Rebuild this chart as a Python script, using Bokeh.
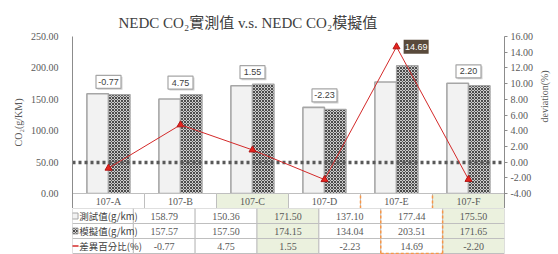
import math
from bokeh.plotting import figure
from bokeh.models import (Range1d, LinearAxis, FixedTicker, NumeralTickFormatter,
                          ColumnDataSource)
from bokeh.transform import dodge
from bokeh.layouts import column
from bokeh.core.properties import value
from bokeh.embed import file_html
from bokeh.resources import INLINE

# ---------------- data ----------------
categories = ["107-A", "107-B", "107-C", "107-D", "107-E", "107-F"]
measured = [158.79, 150.36, 171.50, 137.10, 177.44, 175.50]
simulated = [157.57, 157.50, 174.15, 134.04, 203.51, 171.65]
deviation = [-0.77, 4.75, 1.55, -2.23, 14.69, -2.20]
point_labels = ["-0.77", "4.75", "1.55", "-2.23", "14.69", "2.20"]
measured_text = ["158.79", "150.36", "171.50", "137.10", "177.44", "175.50"]
simulated_text = ["157.57", "157.50", "174.15", "134.04", "203.51", "171.65"]
deviation_text = ["-0.77", "4.75", "1.55", "-2.23", "14.69", "-2.20"]
row_labels = ["測試值(g/km)", "模擬值(g/km)", "差異百分比(%)"]
left_ticks = [0, 50, 100, 150, 200, 250]
right_ticks = [-4, -2, 0, 2, 4, 6, 8, 10, 12, 14, 16]
green_columns = ["107-C", "107-F"]
highlight = "107-E"
title_text = "NEDC CO\u2082實測值 v.s. NEDC CO\u2082模擬值"
left_label = "CO\u2082(g/KM)"
right_label = "deviation(%)"

# ---------------- layout constants ----------------
W = 542 + 16
FRAME_L = 72
FRAME_R_MARGIN = 46
TOP = 36
PLOT_PX = 157
ROW = 15
N = len(categories)
COL_PX = (W - FRAME_L - FRAME_R_MARGIN) / N
LEFT_MAX, RIGHT_MIN, RIGHT_MAX = 250, -4, 16
L_PER_PX = LEFT_MAX / PLOT_PX
R_PER_PX = (RIGHT_MAX - RIGHT_MIN) / PLOT_PX
y_lo = -ROW * L_PER_PX

SERIF = "Liberation Serif"
CJK = "Noto Sans CJK TC"
GRID = "#bfbfbf"
TXT = "#595959"
GREEN = "#ebf1de"
ORANGE = "#f79646"
RED = "#d42a2a"

xs = [i + 0.5 for i in range(N)]
top_vals = [max(m, s) for m, s in zip(measured, simulated)]
fills = [GREEN if c in green_columns else "white" for c in categories]
hi = categories.index(highlight)

src = ColumnDataSource(dict(x=xs, measured=measured, simulated=simulated,
                            dev=deviation, cat=categories, fill=fills))

PAT = dict(fill_color="#cdcdcd", hatch_pattern="x", hatch_color="#3c3c3c",
           hatch_scale=3, hatch_weight=0.9)

# ---------------- chart figure ----------------
p = figure(width=W, height=TOP + PLOT_PX + ROW, x_range=Range1d(0, N),
           y_range=Range1d(y_lo, LEFT_MAX), x_axis_location=None,
           output_backend="svg", toolbar_location=None,
           min_border_left=FRAME_L, min_border_right=FRAME_R_MARGIN,
           min_border_top=TOP, min_border_bottom=0)
p.outline_line_color = None
p.grid.visible = False
p.background_fill_color = "white"

p.title.text = title_text
p.title.align = "left"
p.title.offset = 46
p.title.text_font = SERIF + ", " + CJK
p.title.text_font_size = "15px"
p.title.text_font_style = "normal"
p.title.text_color = "#404040"
p.title.standoff = 11

ya = p.yaxis[0]
ya.ticker = FixedTicker(ticks=left_ticks)
ya.formatter = NumeralTickFormatter(format="0.00")
ya.axis_label = left_label
ya.axis_label_text_font = SERIF
ya.axis_label_text_font_size = "10px"
ya.axis_label_text_font_style = "normal"
ya.axis_label_text_color = TXT
ya.axis_label_standoff = 4
ya.major_label_text_font = SERIF
ya.major_label_text_font_size = "10px"
ya.major_label_text_color = TXT
ya.major_label_standoff = 8
ya.major_tick_line_color = None
ya.minor_tick_line_color = None
ya.axis_line_color = "#8c8c8c"

p.extra_y_ranges = {"dev": Range1d(RIGHT_MIN - ROW * R_PER_PX, RIGHT_MAX)}
ra = LinearAxis(y_range_name="dev", ticker=FixedTicker(ticks=right_ticks),
                formatter=NumeralTickFormatter(format="0.00"),
                axis_label=right_label)
ra.axis_label_text_font = SERIF
ra.axis_label_text_font_size = "10px"
ra.axis_label_text_font_style = "normal"
ra.axis_label_text_color = TXT
ra.axis_label_standoff = 8
ra.major_label_text_font = SERIF
ra.major_label_text_font_size = "10px"
ra.major_label_text_color = TXT
ra.major_label_standoff = 3
ra.major_tick_out = 3
ra.major_tick_in = 0
ra.major_tick_line_color = "#8c8c8c"
ra.minor_tick_line_color = None
ra.axis_line_color = "#8c8c8c"
if "axis_label_orientation" in ra.properties():
    ra.axis_label_orientation = math.pi / 2
p.add_layout(ra, "right")

# bars
p.vbar(x=dodge("x", -0.15), top="measured", width=0.3, source=src,
       fill_color="#f2f2f2", line_color="#a6a6a6", line_width=1.6)
p.vbar(x=dodge("x", 0.15), top="simulated", width=0.3, source=src,
       line_color="#a6a6a6", line_width=1.2, **PAT)

# header row of the table (category names) under the x axis
p.rect(x="x", y=y_lo / 2, width=1, height=-y_lo, source=src,
       fill_color="fill", line_color=GRID, line_width=1)
p.text(x="x", y=y_lo / 2, text="cat", source=src, text_align="center",
       text_baseline="middle", text_font=value(SERIF), text_font_size="10px",
       text_color=TXT)
p.segment(x0=[hi, hi + 1], x1=[hi, hi + 1], y0=[y_lo, y_lo], y1=[0, 0],
          line_color=ORANGE, line_dash="3 2", line_width=1.5)

# dotted zero line of the deviation axis
p.hspan(y=[0], y_range_name="dev", line_color="#595959", line_width=3.5,
        line_dash="3 3")

# deviation line
p.line(x="x", y="dev", source=src, y_range_name="dev", line_color=RED,
       line_width=1)
p.scatter(x="x", y="dev", source=src, y_range_name="dev", marker="triangle",
          size=7, fill_color="#e8231e", line_color="#b01818")

# data labels
norm = [i for i in range(N) if i != hi]
gap = 12 * L_PER_PX
lab = ColumnDataSource(dict(x=[xs[i] for i in norm],
                            y=[top_vals[i] + gap for i in norm],
                            t=[point_labels[i] for i in norm]))
p.rect(x=dodge("x", 1.5 / COL_PX), y=dodge("y", -1.5 * L_PER_PX), width=25,
       height=13, width_units="screen", height_units="screen", source=lab,
       fill_color="#cfcfcf", line_color=None)
p.rect(x="x", y="y", width=25, height=13, width_units="screen",
       height_units="screen", source=lab, fill_color="white",
       line_color="#a6a6a6", line_width=1.2)
p.text(x="x", y="y", text="t", source=lab, text_align="center",
       text_baseline="middle", text_font=value("Liberation Sans"),
       text_font_size="9px", text_color="#404040")

hl = ColumnDataSource(dict(x=[xs[hi] + 20 / COL_PX], y=[deviation[hi]],
                           t=[point_labels[hi]]))
p.rect(x="x", y="y", width=25, height=14, width_units="screen",
       height_units="screen", source=hl, y_range_name="dev",
       fill_color="#594a3b", line_color=None)
p.text(x="x", y="y", text="t", source=hl, y_range_name="dev",
       text_align="center", text_baseline="middle",
       text_font=value("Liberation Sans"), text_font_size="9px",
       text_color="white")

# ---------------- table figure ----------------
LABEL_W = FRAME_L / COL_PX
t = figure(width=W, height=3 * ROW + 1, x_range=Range1d(-LABEL_W, N),
           y_range=Range1d(-1 / ROW, 3), x_axis_location=None,
           y_axis_location=None, output_backend="svg", toolbar_location=None,
           min_border_left=0, min_border_right=FRAME_R_MARGIN,
           min_border_top=0, min_border_bottom=0)
t.outline_line_color = None
t.grid.visible = False

rows = [measured_text, simulated_text, deviation_text]
cx, cy, ct, cf = [], [], [], []
for r, vals in enumerate(rows):
    for i in range(N):
        cx.append(xs[i])
        cy.append(2.5 - r)
        ct.append(vals[i])
        cf.append(fills[i])
cells = ColumnDataSource(dict(x=cx, y=cy, t=ct, fill=cf))
t.rect(x="x", y="y", width=1, height=1, source=cells, fill_color="fill",
       line_color=GRID, line_width=1)
t.text(x="x", y="y", text="t", source=cells, text_align="center",
       text_baseline="middle", text_font=value(SERIF), text_font_size="10px",
       text_color=TXT)

ly = [2.5 - r for r in range(3)]
labsrc = ColumnDataSource(dict(x=[-LABEL_W / 2] * 3, y=ly,
                               tx=[-LABEL_W + 8 / COL_PX] * 3, t=row_labels))
t.rect(x="x", y="y", width=LABEL_W, height=1, source=labsrc,
       fill_color="white", line_color=GRID, line_width=1)
t.text(x="tx", y="y", text="t", source=labsrc, text_align="left",
       text_baseline="middle", text_font=value(CJK), text_font_size="9.5px",
       text_color="#404040")
mx = -LABEL_W + 3 / COL_PX
t.rect(x=[mx], y=[ly[0]], width=6, height=6, width_units="screen",
       height_units="screen", fill_color="#f2f2f2", line_color="#a6a6a6")
t.rect(x=[mx], y=[ly[1]], width=6, height=6, width_units="screen",
       height_units="screen", line_color="#a6a6a6", **PAT)
t.rect(x=[mx], y=[ly[2]], width=7, height=1.5, width_units="screen",
       height_units="screen", fill_color=RED, line_color=None)

# highlighted column border
t.segment(x0=[hi, hi + 1, hi], x1=[hi, hi + 1, hi + 1], y0=[0, 0, 0],
          y1=[3, 3, 0], line_color=ORANGE, line_dash="3 2", line_width=1.5)

layout = column(p, t, spacing=0)
open("out.html", "w").write(file_html(layout, INLINE))
